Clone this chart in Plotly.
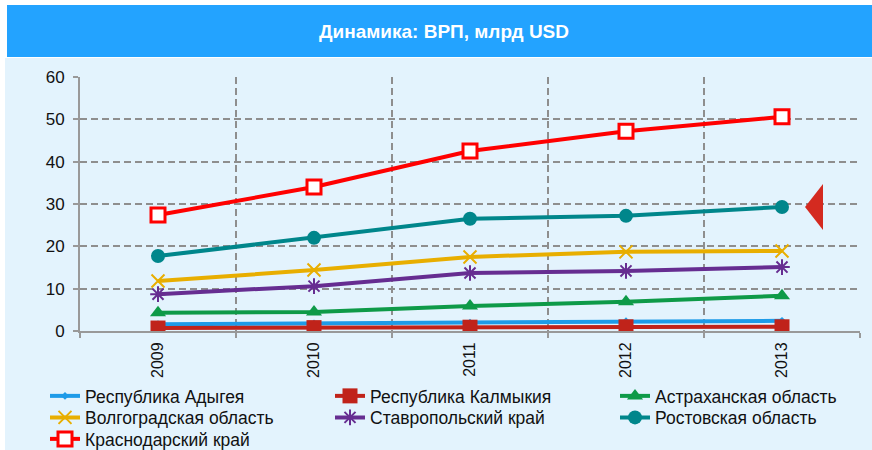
import plotly.graph_objects as go

years = ["2009", "2010", "2011", "2012", "2013"]
adygea = [1.6, 1.8, 2.0, 2.3, 2.4]
kalmykia = [0.7, 0.8, 0.9, 1.0, 1.0]
astrakhan = [4.3, 4.5, 5.9, 6.9, 8.3]
volgograd = [11.8, 14.4, 17.5, 18.7, 18.9]
stavropol = [8.7, 10.6, 13.7, 14.2, 15.1]
rostov = [17.7, 22.0, 26.5, 27.2, 29.3]
krasnodar = [27.4, 34.0, 42.5, 47.2, 50.6]

title_text = "Динамика: ВРП, млрд USD"

W, H = 872, 450
L, R, T, B = 80, 12, 77, 119
pw, ph = W - L - R, H - T - B

def px(x):
    return (x - L) / pw

def py(y):
    return (H - B - y) / ph

FONT = "Liberation Sans, Arial"

# (name, values, colour, marker, legend row)
series = [
    ("Республика Адыгея", adygea, "#1E9BE8", dict(symbol="diamond", size=6, color="#1E9BE8"), "legend"),
    ("Республика Калмыкия", kalmykia, "#C0231A", dict(symbol="square", size=15, color="#C0231A"), "legend"),
    ("Астраханская область", astrakhan, "#0E9A48", dict(symbol="triangle-up", size=14, color="#0E9A48"), "legend"),
    ("Волгоградская область", volgograd, "#E8AE00", dict(symbol="x-thin", size=13, color="#E8AE00", line=dict(width=2, color="#E8AE00")), "legend2"),
    ("Ставропольский край", stavropol, "#662D91", dict(symbol="asterisk", size=13, color="#662D91", line=dict(width=2, color="#662D91")), "legend2"),
    ("Ростовская область", rostov, "#00868B", dict(symbol="circle", size=14, color="#00868B"), "legend2"),
    ("Краснодарский край", krasnodar, "#FF0000", dict(symbol="square", size=14, color="white", line=dict(width=3, color="#FF0000")), "legend3"),
]

fig = go.Figure()
for name, vals, col, mk, lg in series:
    fig.add_trace(go.Scatter(x=years, y=vals, name=name, mode="lines+markers",
                             line=dict(color=col, width=4), marker=mk, legend=lg))

shapes = [
    dict(type="rect", xref="paper", yref="paper", x0=px(5), x1=px(872), y0=py(450), y1=py(58),
         fillcolor="#E3F3FD", line=dict(width=0), layer="below"),
    dict(type="rect", xref="paper", yref="paper", x0=px(7), x1=px(872), y0=py(57), y1=py(5),
         fillcolor="#23A3FF", line=dict(width=0), layer="below"),
    dict(type="path", xref="paper", yref="paper",
         path=f"M {px(823)} {py(184)} L {px(823)} {py(230)} L {px(805)} {py(207)} Z",
         fillcolor="#D42A20", line=dict(width=0)),
]

grid = dict(showgrid=True, gridcolor="#8e8e8e", griddash="7px,4px", gridwidth=1.8)

def legend_row(ytop):
    return dict(orientation="h", xref="paper", yref="paper",
                x=px(45), y=py(ytop), xanchor="left", yanchor="top",
                bgcolor="rgba(0,0,0,0)", tracegroupgap=0, itemwidth=30,
                entrywidth=240, entrywidthmode="pixels",
                font=dict(family=FONT, size=17.5, color="#111"))

fig.update_layout(
    width=W, height=H,
    margin=dict(l=L, r=R, t=T, b=B, autoexpand=False),
    paper_bgcolor="white",
    plot_bgcolor="rgba(0,0,0,0)",
    font=dict(family=FONT, color="#111"),
    shapes=shapes,
    annotations=[dict(text=f"<b>{title_text}</b>", xref="paper", yref="paper",
                      x=px(444), y=py(31), xanchor="center", yanchor="middle", showarrow=False,
                      font=dict(family=FONT, size=19, color="white"))],
    showlegend=True,
    legend=legend_row(378),
    legend2=legend_row(399.5),
    legend3=legend_row(421),
    xaxis=dict(type="category", tickangle=-90, tickson="boundaries", ticks="outside", ticklen=5,
               tickcolor="#999", tickwidth=1.5, **grid, ticklabelstandoff=3,
               showline=True, linecolor="#999", linewidth=2,
               tickfont=dict(size=16, color="#111"), range=[-0.5, 4.5]),
    yaxis=dict(range=[0, 60], dtick=10, ticks="outside", ticklen=5, tickcolor="#999", tickwidth=1.5,
               **grid, ticklabelstandoff=5,
               showline=True, linecolor="#999", linewidth=2, zeroline=False,
               tickfont=dict(size=17, color="#111")),
)

fig.write_html("out.html")
